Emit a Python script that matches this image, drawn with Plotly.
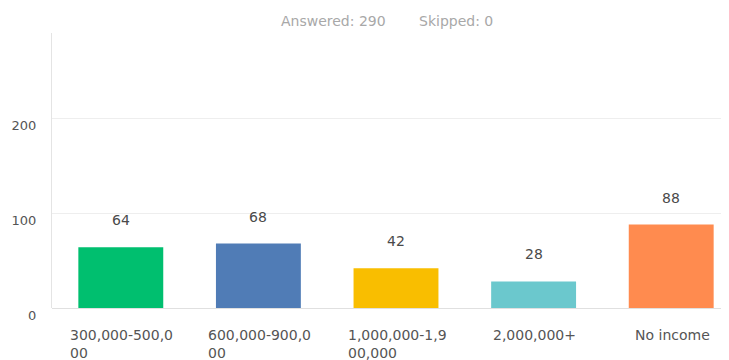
import plotly.graph_objects as go

categories = ["300,000-500,000", "600,000-900,000", "1,000,000-1,900,000", "2,000,000+", "No income"]
tick_labels = ["300,000-500,0<br>00", "600,000-900,0<br>00", "1,000,000-1,9<br>00,000", "2,000,000+", "No income"]
values = [64, 68, 42, 28, 88]
colors = ["#00BF6F", "#507CB6", "#F9BE00", "#6BC8CD", "#FF8B4F"]
y_ticks = [0, 100, 200]
answered = 290
skipped = 0

font_family = "DejaVu Sans, Open Sans, sans-serif"
idx = list(range(len(categories)))

fig = go.Figure()
fig.add_trace(go.Bar(
    x=idx, y=values, marker=dict(color=colors, line=dict(width=0)),
    width=0.617, hoverinfo="skip", showlegend=False,
))

annotations = []
for i, v in enumerate(values):
    annotations.append(dict(x=i, y=v, text=str(v), showarrow=False, yshift=27,
                            font=dict(family=font_family, size=14, color="#4a4a4a")))
    annotations.append(dict(x=i, y=0, text=tick_labels[i], showarrow=False, align="left",
                            yanchor="top", yshift=-17, xshift=1,
                            font=dict(family=font_family, size=14, color="#555555")))
annotations.append(dict(xref="paper", yref="paper", x=0.4963, y=1, yshift=12,
                        xanchor="right", yanchor="middle",
                        text=f"Answered: {answered}", showarrow=False,
                        font=dict(family=font_family, size=14, color="#a8a8a8")))
annotations.append(dict(xref="paper", yref="paper", x=0.539, y=1, yshift=12,
                        xanchor="left", yanchor="middle",
                        text=f"Skipped: {skipped}", showarrow=False,
                        font=dict(family=font_family, size=14, color="#a8a8a8")))

fig.update_layout(
    width=721, height=352,
    margin=dict(l=44, r=0, t=25, b=52, autoexpand=False),
    paper_bgcolor="white", plot_bgcolor="white",
    annotations=annotations,
    xaxis=dict(range=[-0.5, 4.42], showticklabels=False, showgrid=False, zeroline=False,
               showline=False, ticks="", automargin=False),
    yaxis=dict(range=[0, 290], tickvals=y_ticks, showgrid=True, gridcolor="#eeeeee",
               zeroline=True, zerolinecolor="#e0e0e0", zerolinewidth=1,
               showline=True, linecolor="#e4e4e4", linewidth=1,
               ticks="", ticklabelstandoff=12, ticklabelshift=7, automargin=False,
               tickfont=dict(family=font_family, size=13, color="#555555")),
)
fig.write_html("out.html")
